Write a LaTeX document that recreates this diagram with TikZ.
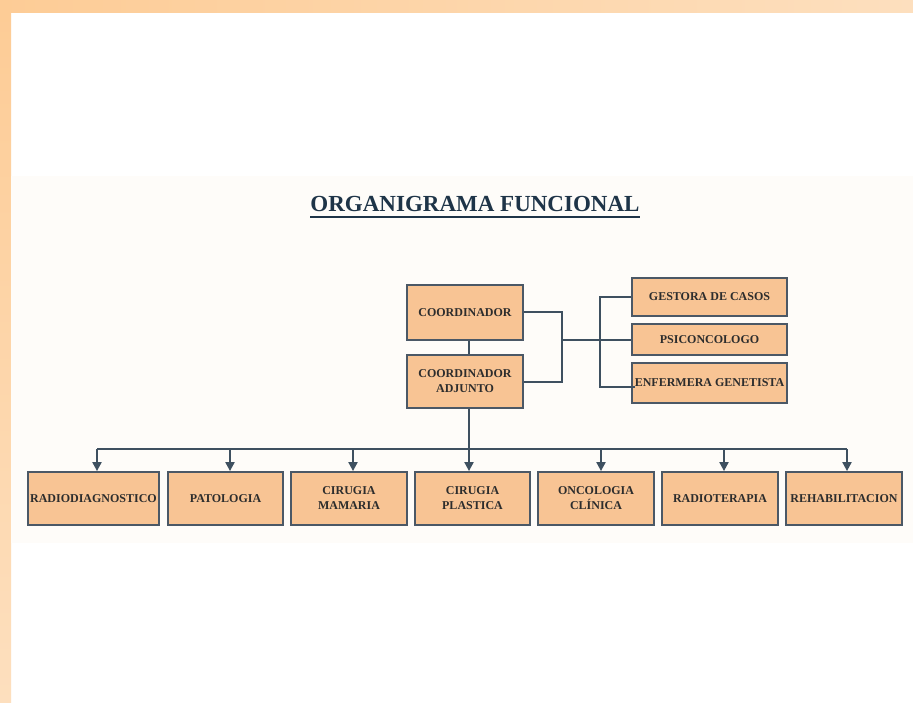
\documentclass[tikz,border=0pt]{standalone}
\usepackage{fontspec}
\setmainfont{Liberation Serif}
\usetikzlibrary{arrows.meta,calc}
\definecolor{framel}{RGB}{253,204,150}
\definecolor{framer}{RGB}{253,223,190}
\definecolor{paper}{RGB}{254,252,249}
\definecolor{boxfill}{RGB}{248,196,148}
\definecolor{boxline}{RGB}{75,88,102}
\definecolor{wire}{RGB}{62,80,96}
\definecolor{titlec}{RGB}{30,52,72}
\definecolor{txt}{RGB}{45,45,45}
\tikzset{
  box/.style={draw=boxline, line width=1.8pt, fill=boxfill, inner sep=0pt,
    align=center, text=txt, font=\fontsize{12}{15}\selectfont\bfseries},
  wireline/.style={draw=wire, line width=2pt},
  arr/.style={wireline, -{Triangle[length=9pt,width=9pt]}}
}
\begin{document}
\begin{tikzpicture}[x=1pt,y=-1pt]
\useasboundingbox (0,0) rectangle (913,703);
\fill[white] (0,0) rectangle (913,703);
\shade[left color=framel, right color=framer] (0,0) rectangle (913,13);
\shade[top color=framel, bottom color=framer] (0,13) rectangle (11,703);
\fill[paper] (11,176) rectangle (913,543);
% title
\node[anchor=base, font=\fontsize{23}{26}\selectfont\bfseries, text=titlec, inner sep=0pt] (title) at (475,212) {ORGANIGRAMA FUNCIONAL};
\draw[titlec, line width=1.6pt] ($(title.base west)+(0,5)$) -- ($(title.base east)+(0,5)$);
% top nodes
\node[box, minimum width=116, minimum height=55] (coord) at (465,312.5) {COORDINADOR};
\node[box, minimum width=116, minimum height=53] (adj) at (465,381.5) {COORDINADOR\\ADJUNTO};
\node[box, minimum width=155, minimum height=38] (gest) at (709.5,297) {GESTORA DE CASOS};
\node[box, minimum width=155, minimum height=31] (psico) at (709.5,339.5) {PSICONCOLOGO};
\node[box, minimum width=155, minimum height=40] (enf) at (709.5,383) {};
% bottom nodes
\foreach \nm/\cx/\w/\tx in {
  radio/93.5/131/RADIODIAGNOSTICO,
  pato/225.5/115/PATOLOGIA,
  cmam/349/116/{CIRUGIA\\MAMARIA},
  cpla/472.5/115/{CIRUGIA\\PLASTICA},
  onco/596/116/{ONCOLOGIA\\CLÍNICA},
  rt/720/116/RADIOTERAPIA,
  reha/844/116/REHABILITACION}{
  \node[box, minimum width=\w, minimum height=53] (\nm) at (\cx,498.5) {\tx};
}
% connectors top
\coordinate (jx) at (562,0);
\coordinate (vx) at (600,0);
\coordinate (sx) at (469,0);
\coordinate (enfin) at ($(enf.west)+(4,4)$);
\draw[wireline] (coord.east) -| (jx |- adj.east) -- (adj.east);
\draw[wireline] (jx |- psico.west) -- (psico.west);
\draw[wireline] (gest.west) -- (vx |- gest.west) -- (vx |- enfin) -- (enfin);
\node[text=txt, font=\fontsize{12}{15}\selectfont\bfseries, inner sep=0pt] (enft) at (709.5,383) {ENFERMERA GENETISTA};
\draw[wireline] (sx |- coord.south) -- (sx |- adj.north);
% bottom bus
\coordinate (bus) at (469,449);
\coordinate (busl) at (97,449);
\coordinate (busr) at (847,449);
\draw[wireline] (sx |- adj.south) -- (bus);
\draw[wireline] (busl) -- (busr);
\draw[arr] (bus) -- (bus |- cpla.north);
\foreach \x/\nm in {97/radio,230/pato,353/cmam,601/onco,724/rt,847/reha}{
  \draw[arr] (\x,449) -- (\x,0 |- \nm.north);
}
\end{tikzpicture}
\end{document}
